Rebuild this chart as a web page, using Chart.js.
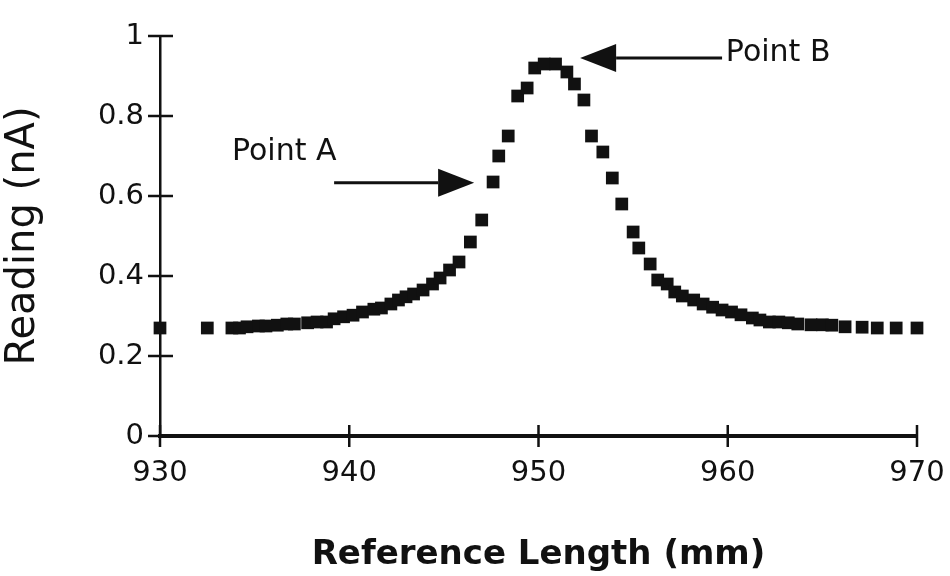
<!DOCTYPE html>
<html>
<head>
<meta charset="utf-8">
<script src="https://cdn.jsdelivr.net/npm/chart.js@4"></script>
<style>
  html, body { margin: 0; padding: 0; background: #fff; }
  #wrap { width: 950px; height: 576px; }
</style>
</head>
<body>
<div id="wrap"><canvas id="chart" width="950" height="576"></canvas></div>
<script>
// reference length (mm) and reading (nA)
const lengths = [
  930.0, 932.5, 933.8, 934.2, 934.6, 935.2, 935.6, 936.2, 936.7, 937.1,
  937.8, 938.3, 938.8, 939.2, 939.7, 940.2, 940.7, 941.3, 941.7, 942.2,
  942.6, 943.0, 943.4, 943.9, 944.4, 944.8, 945.3, 945.8, 946.4, 947.0,
  947.6, 947.9, 948.4, 948.9, 949.4, 949.8, 950.3, 950.9, 951.5, 951.9,
  952.4, 952.8, 953.4, 953.9, 954.4, 955.0, 955.3, 955.9, 956.3, 956.8,
  957.2, 957.6, 958.2, 958.7, 959.2, 959.7, 960.2, 960.7, 961.3, 961.7,
  962.2, 962.7, 963.2, 963.7, 964.4, 965.0, 965.5, 966.2, 967.1, 967.9,
  968.9, 970.0
];
const readings = [
  0.270, 0.270, 0.270, 0.270, 0.273, 0.275, 0.275, 0.277, 0.280, 0.280,
  0.283, 0.285, 0.285, 0.293, 0.298, 0.302, 0.310, 0.317, 0.320, 0.330,
  0.340, 0.348, 0.355, 0.365, 0.380, 0.395, 0.415, 0.435, 0.485, 0.540,
  0.635, 0.700, 0.750, 0.850, 0.870, 0.920, 0.930, 0.930, 0.910, 0.880,
  0.840, 0.750, 0.710, 0.645, 0.580, 0.510, 0.470, 0.430, 0.390, 0.380,
  0.360, 0.350, 0.340, 0.330, 0.322, 0.315, 0.310, 0.303, 0.295, 0.290,
  0.285, 0.285, 0.283, 0.280, 0.278, 0.278, 0.277, 0.273, 0.272, 0.270,
  0.270, 0.270
];
const xTicks = [930, 940, 950, 960, 970];
const yTicks = [0, 0.2, 0.4, 0.6, 0.8, 1];

// callouts, in data units: [label, textX, textY, tailX, tipX, arrowY]
const pointA = ['Point A', 933.8, 0.71, 939.2, 946.6, 0.633];
const pointB = ['Point B', 959.9, 0.957, 959.7, 952.2, 0.945];

const ink = '#111';
const font = '"DejaVu Sans", sans-serif';

const points = lengths.map((x, i) => ({ x: x, y: readings[i] }));

// tick marks that cross the axis lines, like the original
const crossTicks = {
  id: 'crossTicks',
  afterDraw(chart) {
    const { ctx, scales: { x, y } } = chart;
    const x0 = x.getPixelForValue(930);
    const y0 = y.getPixelForValue(0);
    ctx.save();
    ctx.strokeStyle = ink;
    ctx.lineWidth = 2.5;
    ctx.beginPath();
    xTicks.forEach(v => {
      const px = x.getPixelForValue(v);
      ctx.moveTo(px, y0 - 11);
      ctx.lineTo(px, y0 + 11);
    });
    yTicks.forEach(v => {
      const py = y.getPixelForValue(v);
      ctx.moveTo(x0 - 12, py);
      ctx.lineTo(x0 + 13, py);
    });
    ctx.stroke();
    ctx.restore();
  }
};

function drawCallout(chart, c, headLeft) {
  const { ctx, scales: { x, y } } = chart;
  const [label, tx, ty, tail, tip, ay] = c;
  const yp = y.getPixelForValue(ay);
  const tailP = x.getPixelForValue(tail);
  const tipP = x.getPixelForValue(tip);
  const head = 36;
  const dir = headLeft ? 1 : -1;
  ctx.strokeStyle = ink;
  ctx.fillStyle = ink;
  ctx.lineWidth = 3;
  ctx.beginPath();
  ctx.moveTo(tailP, yp);
  ctx.lineTo(tipP + dir * head, yp);
  ctx.stroke();
  ctx.beginPath();
  ctx.moveTo(tipP, yp);
  ctx.lineTo(tipP + dir * head, yp - 14);
  ctx.lineTo(tipP + dir * head, yp + 14);
  ctx.closePath();
  ctx.fill();
  ctx.font = '30px ' + font;
  ctx.textBaseline = 'middle';
  ctx.textAlign = 'left';
  ctx.fillText(label, x.getPixelForValue(tx), y.getPixelForValue(ty));
}

const callouts = {
  id: 'callouts',
  afterDraw(chart) {
    chart.ctx.save();
    drawCallout(chart, pointA, false);
    drawCallout(chart, pointB, true);
    chart.ctx.restore();
  }
};

new Chart(document.getElementById('chart'), {
  type: 'scatter',
  data: {
    datasets: [{
      label: 'Reading',
      data: points,
      pointStyle: 'rect',
      pointRadius: 9,
      pointHoverRadius: 9,
      backgroundColor: ink,
      borderWidth: 0,
      showLine: false,
      clip: false
    }]
  },
  options: {
    responsive: false,
    animation: false,
    events: [],
    layout: { padding: { top: 36, right: 33, left: 0, bottom: 0 } },
    plugins: {
      legend: { display: false },
      tooltip: { enabled: false }
    },
    scales: {
      x: {
        type: 'linear',
        min: 930,
        max: 970,
        afterBuildTicks: s => { s.ticks = xTicks.map(v => ({ value: v })); },
        grid: { display: false, drawTicks: false },
        border: { display: true, color: ink, width: 4 },
        ticks: { color: ink, padding: 20, font: { family: font, size: 29 } },
        title: {
          display: true,
          text: 'Reference Length (mm)',
          color: ink,
          padding: { top: 24, bottom: 0 },
          font: { family: font, size: 34, weight: 'bold' }
        },
        afterFit: s => {
          s.height = 140;
          s.paddingLeft = 0;
          s.paddingRight = 0;
        }
      },
      y: {
        min: 0,
        max: 1,
        afterBuildTicks: s => { s.ticks = yTicks.map(v => ({ value: v })); },
        grid: { display: false, drawTicks: false },
        border: { display: true, color: ink, width: 2.5 },
        ticks: {
          color: ink,
          padding: 16,
          font: { family: font, size: 29 },
          callback: v => String(v)
        },
        title: {
          display: true,
          text: 'Reading (nA)',
          color: ink,
          padding: { top: 0, bottom: 6 },
          font: { family: font, size: 40 }
        },
        afterFit: s => {
          s.width = 160;
          s.paddingTop = 0;
          s.paddingBottom = 0;
        }
      }
    }
  },
  plugins: [crossTicks, callouts]
});
</script>
</body>
</html>
